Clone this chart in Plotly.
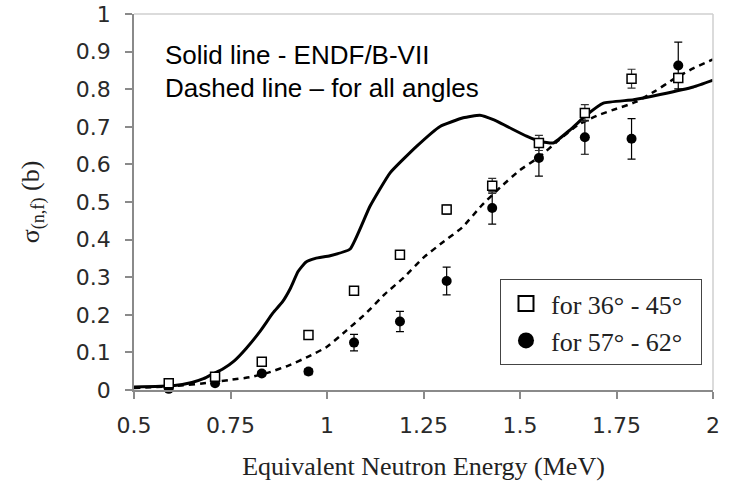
import plotly.graph_objects as go

# ENDF/B-VII evaluation (solid line)
endf_x = [0.5, 0.6, 0.65, 0.68, 0.707, 0.73, 0.759, 0.79, 0.828, 0.86, 0.885, 0.905, 0.925,
          0.945, 0.97, 1.008, 1.06, 1.111, 1.163, 1.232, 1.293, 1.353, 1.396, 1.431, 1.517,
          1.552, 1.586, 1.63, 1.673, 1.716, 1.794, 1.863, 1.949, 2.0]
endf_y = [0.008, 0.011, 0.02, 0.03, 0.044, 0.056, 0.077, 0.11, 0.158, 0.205, 0.235, 0.27,
          0.315, 0.34, 0.35, 0.357, 0.375, 0.488, 0.577, 0.648, 0.701, 0.724, 0.731, 0.719,
          0.675, 0.661, 0.657, 0.692, 0.732, 0.763, 0.772, 0.786, 0.806, 0.824]

# Fit for all angles (dashed line)
fit_x = [0.5, 0.6, 0.7, 0.75, 0.8, 0.85, 0.9, 0.95, 1.0, 1.05, 1.1, 1.15, 1.2, 1.25, 1.3,
         1.35, 1.4, 1.45, 1.5, 1.55, 1.6, 1.65, 1.7, 1.75, 1.8, 1.85, 1.9, 1.95, 2.0]
fit_y = [0.005, 0.01, 0.02, 0.027, 0.034, 0.047, 0.065, 0.088, 0.115, 0.158, 0.203, 0.255,
         0.30, 0.352, 0.393, 0.432, 0.49, 0.54, 0.585, 0.62, 0.664, 0.705, 0.73, 0.748,
         0.766, 0.795, 0.828, 0.856, 0.879]

# Measured points
energy = [0.59, 0.71, 0.831, 0.952, 1.07, 1.189, 1.31, 1.428, 1.549, 1.668, 1.789, 1.91]
sq_y = [0.018, 0.035, 0.075, 0.146, 0.264, 0.36, 0.48, 0.543, 0.657, 0.737, 0.828, 0.83]
sq_err = [0.005, 0.005, 0.008, 0.008, 0.008, 0.01, 0.012, 0.02, 0.02, 0.022, 0.025, 0.012]
ci_y = [0.003, 0.018, 0.044, 0.049, 0.126, 0.182, 0.29, 0.484, 0.617, 0.672, 0.668, 0.863]
ci_err = [0.004, 0.005, 0.006, 0.008, 0.022, 0.027, 0.037, 0.043, 0.048, 0.045, 0.054, 0.062]

label_sq = "for 36° - 45°"
label_ci = "for 57° - 62°"

x_ticks = [0.5, 0.75, 1, 1.25, 1.5, 1.75, 2]
x_tick_text = ["0.5", "0.75", "1", "1.25", "1.5", "1.75", "2"]
y_ticks = [0, 0.1, 0.2, 0.3, 0.4, 0.5, 0.6, 0.7, 0.8, 0.9, 1]
y_tick_text = ["0", "0.1", "0.2", "0.3", "0.4", "0.5", "0.6", "0.7", "0.8", "0.9", "1"]

fig = go.Figure()

fig.add_trace(go.Scatter(x=endf_x, y=endf_y, mode="lines", showlegend=False,
                         line=dict(color="black", width=3, shape="spline", smoothing=0.4)))
fig.add_trace(go.Scatter(x=fit_x, y=fit_y, mode="lines", showlegend=False,
                         line=dict(color="black", width=2.5, dash="6px,5px", shape="spline", smoothing=0.5)))

fig.add_trace(go.Scatter(x=energy, y=ci_y, mode="markers", showlegend=False, cliponaxis=False,
                         error_y=dict(type="data", array=ci_err, color="black", thickness=1.2, width=4),
                         marker=dict(symbol="circle", size=10, color="black")))
fig.add_trace(go.Scatter(x=energy, y=sq_y, mode="markers", showlegend=False, cliponaxis=False,
                         error_y=dict(type="data", array=sq_err, color="#333", thickness=1.2, width=4),
                         marker=dict(symbol="square", size=9, color="white",
                                     line=dict(color="black", width=1.5))))

# legend entries (trailing no-break spaces widen the box like the reference)
pad = "\u00a0\u00a0"
fig.add_trace(go.Scatter(x=[None], y=[None], mode="markers", name=label_sq + pad,
                         marker=dict(symbol="square", size=15, color="white",
                                     line=dict(color="black", width=2))))
fig.add_trace(go.Scatter(x=[None], y=[None], mode="markers", name=label_ci + pad,
                         marker=dict(symbol="circle", size=16, color="black")))

fig.add_annotation(xref="paper", yref="paper", x=0.05, y=0.891, xanchor="left", yanchor="middle",
                   text="Solid line - ENDF/B-VII", showarrow=False,
                   font=dict(family="Liberation Sans, Arial", size=26, color="black"))
fig.add_annotation(xref="paper", yref="paper", x=0.05, y=0.803, xanchor="left", yanchor="middle",
                   text="Dashed line – for all angles", showarrow=False,
                   font=dict(family="Liberation Sans, Arial", size=26, color="black"))

# top and right frame
fig.add_shape(type="line", xref="paper", yref="paper", x0=0, x1=1, y0=1, y1=1,
              line=dict(color="#cfcfcf", width=1.5))
fig.add_shape(type="line", xref="paper", yref="paper", x0=1, x1=1, y0=0, y1=1,
              line=dict(color="#cfcfcf", width=1.5))

tickfont = dict(family="DejaVu Sans, Verdana", size=22, color="#2a2a2a")
titlefont = dict(family="Liberation Serif, Times New Roman", size=26, color="#222")

fig.update_layout(
    width=729, height=488,
    margin=dict(l=134, r=16, t=14, b=98, autoexpand=False),
    paper_bgcolor="white", plot_bgcolor="white",
    xaxis=dict(range=[0.5, 2], tickvals=x_ticks, ticktext=x_tick_text, showgrid=False,
               zeroline=False, showline=True, linecolor="#8a8a8a", linewidth=1.5,
               ticks="outside", ticklen=7, tickcolor="#8a8a8a", tickwidth=1.5,
               tickfont=tickfont, ticklabelstandoff=8, automargin=False,
               title=dict(text="Equivalent Neutron Energy (MeV)", font=titlefont, standoff=20)),
    yaxis=dict(range=[0, 1], tickvals=y_ticks, ticktext=y_tick_text, showgrid=False,
               zeroline=False, showline=True, linecolor="#8a8a8a", linewidth=1.5,
               ticks="outside", ticklen=7, tickcolor="#8a8a8a", tickwidth=1.5,
               tickfont=tickfont, ticklabelstandoff=10, automargin=False,
               title=dict(text="σ<sub>(n,f)</sub> (b)", font=titlefont, standoff=29)),
    legend=dict(x=0.981, y=0.066, xanchor="right", yanchor="bottom",
                bordercolor="#444", borderwidth=1, bgcolor="white", itemwidth=40,
                font=dict(family="Liberation Serif, Times New Roman", size=26, color="#222"),
                tracegroupgap=0),
)

fig.write_html("out.html")
